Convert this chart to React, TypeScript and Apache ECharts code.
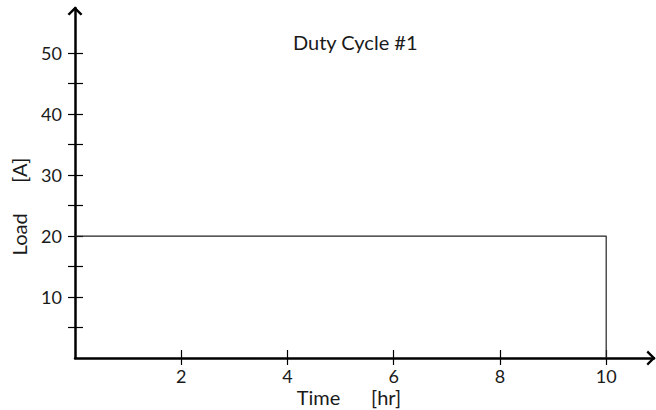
import React, { useEffect, useRef } from "react";
import * as echarts from "echarts";

const titleText = "Duty Cycle #1";
const xName = "Time      [hr]";
const yName = "Load      [A]";
const times = [0, 10, 10];
const loads = [20, 20, 0];
const xTicks = [2, 4, 6, 8, 10];
const yTicks = [5, 10, 15, 20, 25, 30, 35, 40, 45, 50];
const yLabels = [10, 20, 30, 40, 50];
const xMax = 10.9;
const yMax = 57.4;

const FONT = "Lato, 'Open Sans', sans-serif";
const chevron = "path://M10,0 L20,10 L17.5,12 L10,4.5 L2.5,12 L0,10 Z";

export default function App() {
  const ref = useRef<HTMLDivElement>(null);
  useEffect(() => {
    if (!ref.current) return;
    const chart = echarts.init(ref.current, null, { renderer: "svg" });
    const data = times.map((t, i) => [t, loads[i]]);
    const baseX = {
      type: "value",
      min: 0,
      max: xMax,
      position: "bottom",
      splitLine: { show: false },
    };
    const baseY = {
      type: "value",
      min: 0,
      max: yMax,
      position: "left",
      splitLine: { show: false },
    };
    chart.setOption({
      animation: false,
      backgroundColor: "#fff",
      textStyle: { fontFamily: FONT },
      title: {
        text: titleText,
        left: 288,
        top: 27,
        textStyle: { fontFamily: FONT, fontSize: 20, fontWeight: "normal", color: "#1a1a1a" },
      },
      grid: { left: 75, right: 2, top: 8, bottom: 52, containLabel: false, outerBoundsMode: "none" },
      xAxis: [
        {
          ...baseX,
          name: xName,
          nameLocation: "middle",
          nameGap: 29,
          nameMoveOverlap: false,
          nameTextStyle: { fontFamily: FONT, fontSize: 20, lineHeight: 20, color: "#1a1a1a", padding: [0, 31, 0, 0] },
          axisLine: {
            show: true,
            lineStyle: { color: "#000", width: 2.5 },
            symbol: ["none", chevron],
            symbolSize: [16, 9],
            symbolOffset: [0, -3],
          },
          axisTick: { show: true, customValues: xTicks, length: 7, inside: false, lineStyle: { color: "#000", width: 1.2 } },
          axisLabel: { customValues: xTicks, margin: 9, fontFamily: FONT, fontSize: 18, color: "#1a1a1a" },
        },
        {
          ...baseX,
          axisLine: { show: false },
          axisTick: { show: true, customValues: xTicks, length: 8, inside: true, lineStyle: { color: "#000", width: 1.2 } },
          axisLabel: { show: false },
        },
      ],
      yAxis: [
        {
          ...baseY,
          name: yName,
          nameLocation: "middle",
          nameGap: 46,
          nameMoveOverlap: false,
          nameRotate: 90,
          nameTextStyle: { fontFamily: FONT, fontSize: 20, color: "#1a1a1a", padding: [0, 47, 0, 0] },
          axisLine: {
            show: true,
            lineStyle: { color: "#000", width: 2.5 },
            symbol: ["none", chevron],
            symbolSize: [16, 9],
            symbolOffset: [0, -3],
          },
          axisTick: { show: true, customValues: yTicks, length: 7, inside: false, lineStyle: { color: "#000", width: 1.2 } },
          axisLabel: { customValues: yLabels, margin: 13, fontFamily: FONT, fontSize: 18, color: "#1a1a1a" },
        },
        {
          ...baseY,
          axisLine: { show: false },
          axisTick: { show: true, customValues: yTicks, length: 8, inside: true, lineStyle: { color: "#000", width: 1.2 } },
          axisLabel: { show: false },
        },
      ],
      series: [
        {
          type: "line",
          xAxisIndex: 0,
          yAxisIndex: 0,
          data,
          showSymbol: false,
          symbol: "none",
          lineStyle: { color: "#222", width: 1.2 },
          z: 1,
        },
      ],
    });
    return () => chart.dispose();
  }, []);
  return <div ref={ref} style={{ width: 656, height: 410, position: "absolute", left: 0, top: 0 }} />;
}
